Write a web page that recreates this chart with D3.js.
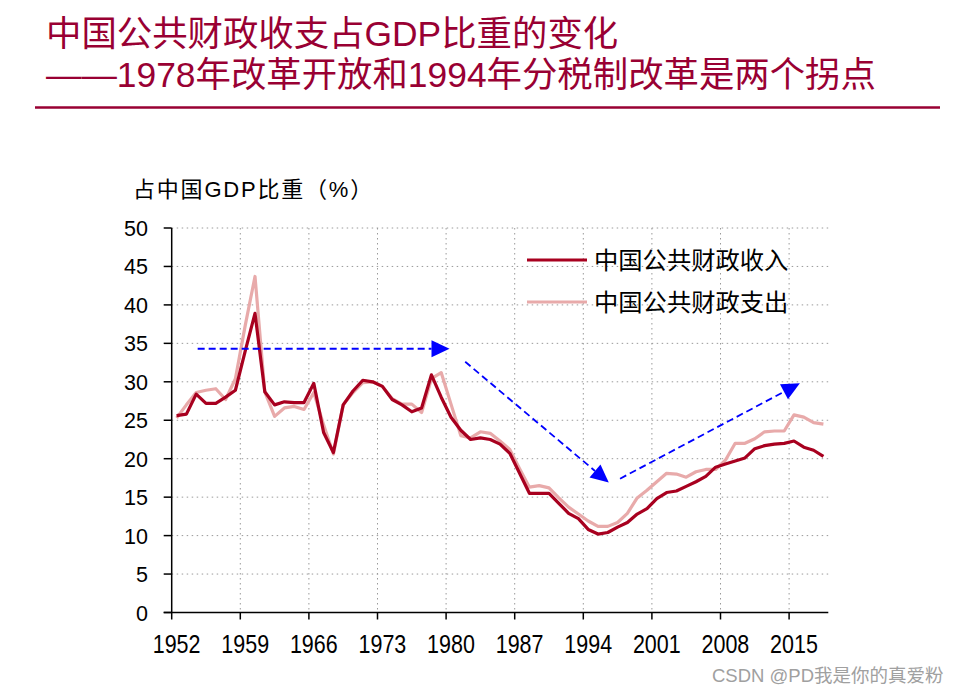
<!DOCTYPE html>
<html><head><meta charset="utf-8">
<script src="https://cdn.jsdelivr.net/npm/d3@7"></script>
<style>
html,body{margin:0;padding:0;background:#fff;}
svg{display:block;}
</style></head>
<body>
<svg id="chart" width="963" height="694"></svg>
<script>
const years = d3.range(1952, 2019);
const revenue = [25.6,25.8,28.4,27.2,27.2,28.0,28.9,34.0,38.9,28.7,27.0,27.4,27.3,27.3,29.8,23.4,20.8,27.0,28.8,30.2,30.0,29.4,27.7,27.0,26.1,26.6,30.9,28.0,25.4,23.7,22.5,22.7,22.5,21.9,20.7,18.1,15.5,15.5,15.5,14.2,12.9,12.2,10.8,10.2,10.4,11.1,11.7,12.8,13.5,14.8,15.6,15.8,16.4,17.0,17.7,18.9,19.3,19.7,20.1,21.3,21.7,21.9,22.0,22.3,21.5,21.1,20.3];
const expenditure = [25.3,27.0,28.6,28.9,29.1,27.7,30.4,37.3,43.7,28.7,25.5,26.6,26.8,26.4,28.6,24.4,20.6,27.0,28.6,29.9,30.0,29.4,27.8,27.1,27.1,26.0,30.4,31.2,27.1,23.0,22.7,23.5,23.3,22.3,21.2,18.7,16.3,16.5,16.2,14.9,13.7,12.8,11.9,11.2,11.2,11.7,12.9,14.9,15.9,17.0,18.1,18.0,17.6,18.3,18.6,18.6,19.8,22.0,22.0,22.6,23.5,23.6,23.6,25.7,25.4,24.7,24.5];
const seriesNames = ["中国公共财政收入","中国公共财政支出"];
const xTickYears = [1952,1959,1966,1973,1980,1987,1994,2001,2008,2015];
const yTicks = [0,5,10,15,20,25,30,35,40,45,50];
const titleLines = ["中国公共财政收支占GDP比重的变化","——1978年改革开放和1994年分税制改革是两个拐点"];
const yAxisTitle = "占中国GDP比重（%）";
const watermark = "CSDN @PD我是你的真爱粉";
// annotation arrows: [startYear, startValue, endYear, endValue]
const arrows = [
  [1954.15, 34.3, 1979.85, 34.3],
  [1981.45, 32.6, 1996.1, 16.9],
  [1997.25, 17.4, 2015.6, 29.8]
];

const svg = d3.select("#chart");
const L = 171.7, R = 828.3, T = 228, B = 612.5;
const x = d3.scaleBand().domain(years).range([L, R]).padding(0);
const bw = x.bandwidth();
const xc = d3.scaleLinear().domain([1952, 2018]).range([x(1952) + bw/2, x(2018) + bw/2]);
const y = d3.scaleLinear().domain([0, 50]).range([B, T]);

const latin = "'Liberation Sans', Arial, 'Noto Sans CJK SC', sans-serif";
const cjk = "'Noto Sans CJK SC', 'Liberation Sans', sans-serif";
const red = "#990033";

// Title
svg.selectAll("text.title").data(titleLines).enter().append("text")
  .attr("class","title")
  .attr("x", 46).attr("y", (d,i) => 46 + i*41)
  .attr("font-family", latin).attr("font-size", 35.4).attr("fill", red)
  .text(d => d);
svg.append("line").attr("x1", 35).attr("x2", 940).attr("y1", 107.5).attr("y2", 107.5)
  .attr("stroke", red).attr("stroke-width", 2.5);

// Gridlines
const grid = svg.append("g");
grid.selectAll("line.h").data(yTicks.filter(d => d > 0)).enter().append("line")
  .attr("x1", L).attr("x2", R).attr("y1", d => y(d)).attr("y2", d => y(d))
  .attr("stroke", "#9a9a9a").attr("stroke-width", 1).attr("stroke-dasharray", "1.5,3.5");
grid.selectAll("line.v").data(xTickYears.filter(d => d > 1952)).enter().append("line")
  .attr("x1", d => x(d)).attr("x2", d => x(d)).attr("y1", T).attr("y2", B)
  .attr("stroke", "#9a9a9a").attr("stroke-width", 1).attr("stroke-dasharray", "1.5,3.5");

// Axes
const axisG = svg.append("g");
axisG.append("line").attr("x1", L).attr("x2", L).attr("y1", y(0)).attr("y2", y(50))
  .attr("stroke", "#000").attr("stroke-width", 1.5);
axisG.append("line").attr("x1", L - 8).attr("x2", R).attr("y1", y(0)).attr("y2", y(0))
  .attr("stroke", "#000").attr("stroke-width", 1.5);
axisG.selectAll("line.yt").data(yTicks).enter().append("line")
  .attr("x1", L - 8).attr("x2", L).attr("y1", d => y(d)).attr("y2", d => y(d))
  .attr("stroke", "#000").attr("stroke-width", 1.5);
axisG.selectAll("text.yl").data(yTicks).enter().append("text")
  .attr("x", 148).attr("y", d => y(d) + 8)
  .attr("text-anchor", "end").attr("font-family", latin).attr("font-size", 21.5).attr("fill", "#000")
  .text(d => d);
axisG.selectAll("line.xt").data(xTickYears).enter().append("line")
  .attr("x1", d => x(d)).attr("x2", d => x(d)).attr("y1", y(0)).attr("y2", y(0) + 7)
  .attr("stroke", "#000").attr("stroke-width", 1.5);
axisG.selectAll("text.xl").data(xTickYears).enter().append("text")
  .attr("transform", d => `translate(${x(d) + bw/2},${653}) scale(0.86,1)`)
  .attr("text-anchor", "middle").attr("font-family", latin).attr("font-size", 25).attr("fill", "#000")
  .text(d => d);

// Y axis title
svg.append("text").attr("x", 133).attr("y", 197)
  .attr("font-family", latin).attr("font-size", 22).attr("letter-spacing", 1.8).attr("fill", "#000")
  .text(yAxisTitle);

// Lines
const line = vals => d3.line().x((d,i) => x(years[i]) + bw/2).y(d => y(d))(vals);
svg.append("path").attr("d", line(expenditure)).attr("fill", "none")
  .attr("stroke", "#e8aaaa").attr("stroke-width", 3.2).attr("stroke-linejoin", "round");
svg.append("path").attr("d", line(revenue)).attr("fill", "none")
  .attr("stroke", "#a8001f").attr("stroke-width", 3.2).attr("stroke-linejoin", "round");

// Arrows
const ag = svg.append("g");
arrows.forEach(a => {
  const x1 = xc(a[0]), y1 = y(a[1]), x2 = xc(a[2]), y2 = y(a[3]);
  const dx = x2 - x1, dy = y2 - y1, len = Math.hypot(dx, dy);
  const ux = dx/len, uy = dy/len, px = -uy, py = ux;
  const hl = 18, hw = 8.5;
  const bx = x2 - ux*hl, by = y2 - uy*hl;
  ag.append("line").attr("x1", x1).attr("y1", y1).attr("x2", bx).attr("y2", by)
    .attr("stroke", "#0000ff").attr("stroke-width", 1.8).attr("stroke-dasharray", "7,4");
  ag.append("path")
    .attr("d", `M${x2},${y2}L${bx + px*hw},${by + py*hw}L${bx - px*hw},${by - py*hw}Z`)
    .attr("fill", "#0000ff");
});

// Legend
const legColors = ["#a8001f", "#e8aaaa"];
const lg = svg.append("g");
seriesNames.forEach((n, i) => {
  const ly = 260 + i*42;
  lg.append("line").attr("x1", 527).attr("x2", 587).attr("y1", ly).attr("y2", ly)
    .attr("stroke", legColors[i]).attr("stroke-width", 3.2);
  lg.append("text").attr("x", 594).attr("y", ly + 8.5)
    .attr("font-family", cjk).attr("font-size", 24.3).attr("fill", "#000").text(n);
});

// Watermark
svg.append("text").attr("x", 712).attr("y", 682)
  .attr("font-family", latin).attr("font-size", 18.5).attr("fill", "#a0a0a0")
  .text(watermark);
</script>
</body></html>
